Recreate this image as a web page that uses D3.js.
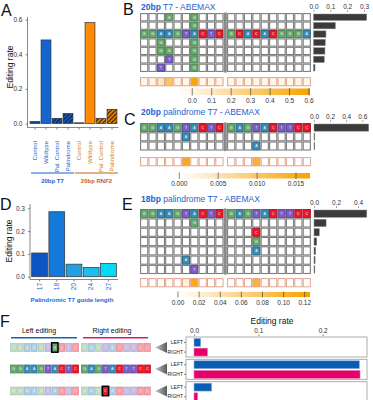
<!DOCTYPE html>
<html>
<head>
<meta charset="utf-8">
<script src="https://cdn.jsdelivr.net/npm/d3@7"></script>
<style>
body { margin: 0; background: #fff; }
text { font-family: "Liberation Sans", Arial, sans-serif; }
</style>
</head>
<body>
<svg id="chart" width="373" height="400"></svg>
<script>
// ---------- data ----------
let aCategories = ['Control', 'Wildtype', 'Pal. Control', 'Palindrome'];
let aGroups = ['20bp T7', '20bp RNF2'];
let aT7 = [0.012, 0.483, 0.03, 0.058];
let aRNF2 = [0.004, 0.583, 0.03, 0.082];
let aTicks = [0, 0.2, 0.4, 0.6];

let dLengths = ['17', '18', '20', '24', '27'];
let dRates = [0.104, 0.285, 0.055, 0.041, 0.058];
let dTicks = [0, 0.1, 0.2, 0.3];

// '.' = unchanged position
let rowsB = [
	'...G..G.............',
	'......G.............',
	'GGAAGTACTCGCACACGGGA',
	'..G...G.............',
	'..GG..G.............',
	'...T..G.............',
	'..T...G.............'
];
let ratesB = [0.316, 0.13, 0.074, 0.07, 0.068, 0.064, 0.009];
let heatB = [0, 0, 0.12, 0.35, 0, 0, 0.58, 0, 0, 0, 0, 0, 0, 0, 0, 0, 0, 0, 0, 0];
let barTicksB = [0, 0.1, 0.2, 0.3];
let legendTicksB = [0, 0.1, 0.2, 0.3, 0.4, 0.5, 0.6];

let rowsC = [
	'GGAAGTACTCGAGTACTTCC',
	'.....A..............',
	'.............A......'
];
let ratesC = [0.68, 0.005, 0.004];
let heatC = [0, 0, 0, 0, 0, 0.0155, 0, 0, 0, 0, 0, 0, 0, 0.0135, 0, 0, 0, 0, 0, 0];
let barTicksC = [0, 0.2, 0.4, 0.6];
let legendTicksC = [0, 0.005, 0.01, 0.015];

let rowsE = [
	'GGAAGTACTCGAGTACTTCC',
	'......G.............',
	'.............C......',
	'.............G......',
	'.............A......',
	'.....A..............',
	'......T.............'
];
let ratesE = [0.48, 0.11, 0.048, 0.025, 0.015, 0.01, 0.008];
let heatE = [0, 0, 0, 0, 0, 0.02, 0.115, 0, 0, 0, 0, 0, 0, 0.1, 0, 0, 0, 0, 0, 0];
let barTicksE = [0, 0.2, 0.4];
let legendTicksE = [0, 0.02, 0.04, 0.06, 0.08, 0.1, 0.12];

let seqF = 'GGAAGTACTCGAGTACTTCC';
let fEditPos = [6, null, 13];
let fEditBase = ['G', null, 'C'];
let fSides = ['LEFT', 'RIGHT'];
let fLeft = [0.0104, 0.257, 0.0275];
let fRight = [0.021, 0.258, 0.0057];
let fTicks = [0, 0.1, 0.2];

// ---------- setup ----------
let svg = d3.select('#chart');
let defs = svg.append('defs');
let baseColor = { G: '#68aa6e', A: '#3a8db6', T: '#7c5ec6', C: '#e8192c' };
let blue = '#1565d0';
let orange = '#ff8c00';

let makeHatch = (id, base, line) => {
	let p = defs.append('pattern')
		.attr('id', id)
		.attr('patternUnits', 'userSpaceOnUse')
		.attr('width', 3)
		.attr('height', 3)
		.attr('patternTransform', 'rotate(45)');
	p.append('rect').attr('width', 3).attr('height', 3).attr('fill', base);
	p.append('line').attr('x1', 0.7).attr('y1', 0).attr('x2', 0.7).attr('y2', 3)
		.attr('stroke', line).attr('stroke-width', 1.4);
};
makeHatch('hatchBlue', blue, '#0b1f4a');
makeHatch('hatchOrange', orange, '#3a2400');

let panelLabel = (txt, x, y) => {
	svg.append('text').attr('x', x).attr('y', y).attr('font-size', 16).attr('fill', '#111').text(txt);
};

let styleAxis = (g) => {
	g.selectAll('text').attr('font-size', 6.5).attr('fill', '#333');
	g.selectAll('line').attr('stroke', '#555').attr('stroke-width', 0.7);
	g.select('.domain').remove();
};

// ---------- panel A ----------
panelLabel('A', 1, 16);
let aData = [];
aGroups.forEach((g, gi) => {
	aCategories.forEach((c, ci) => {
		aData.push({ key: g + c, cat: c, gi: gi, ci: ci, value: gi === 0 ? aT7[ci] : aRNF2[ci] });
	});
});
let aX = d3.scaleBand().domain(aData.map((d) => d.key)).range([29.5, 117.5]).paddingInner(0.1).paddingOuter(0.05);
let aY = d3.scaleLinear().domain([0, 0.6]).range([123.5, 19.7]);

let aFill = (d) => {
	if (d.ci === 0) return d.gi === 0 ? '#1d4690' : '#4a4a4a';
	if (d.ci === 1) return d.gi === 0 ? blue : orange;
	return d.gi === 0 ? 'url(#hatchBlue)' : 'url(#hatchOrange)';
};
svg.append('g').selectAll('rect')
	.data(aData)
	.enter()
	.append('rect')
	.attr('x', (d) => aX(d.key))
	.attr('width', aX.bandwidth())
	.attr('y', (d) => aY(d.value))
	.attr('height', (d) => aY(0) - aY(d.value))
	.attr('fill', aFill)
	.attr('stroke', '#333')
	.attr('stroke-width', 0.7);

svg.append('g').attr('transform', 'translate(27.5,0)')
	.call(d3.axisLeft(aY).tickValues(aTicks).tickFormat(d3.format('.1f')).tickSize(2).tickSizeOuter(0))
	.call(styleAxis);
svg.append('line').attr('x1', 27.5).attr('x2', 27.5).attr('y1', 17).attr('y2', 127.5).attr('stroke', '#555').attr('stroke-width', 0.7);
svg.append('g').attr('transform', 'translate(0,127.5)')
	.call(d3.axisBottom(aX).tickSize(2).tickSizeOuter(0).tickFormat(''))
	.call(styleAxis);
svg.append('line').attr('x1', 27.5).attr('x2', 118.5).attr('y1', 127.5).attr('y2', 127.5).attr('stroke', '#555').attr('stroke-width', 0.7);

svg.append('g').selectAll('text')
	.data(aData)
	.enter()
	.append('text')
	.attr('transform', (d) => 'translate(' + (aX(d.key) + aX.bandwidth() / 2 + 2) + ',141) rotate(-90)')
	.attr('text-anchor', 'end')
	.attr('font-size', 6)
	.attr('fill', (d) => d.gi === 0 ? '#1a5fd0' : '#e07a00')
	.text((d) => d.cat);

aGroups.forEach((g, gi) => {
	let first = aX(g + aCategories[0]);
	let last = aX(g + aCategories[3]) + aX.bandwidth();
	let col = gi === 0 ? '#1a5fd0' : '#c8620a';
	svg.append('line').attr('x1', first + 1).attr('x2', last + 1).attr('y1', 173).attr('y2', 173)
		.attr('stroke', col).attr('stroke-width', 1.1);
	svg.append('text').attr('x', (first + last) / 2 + 1).attr('y', 183).attr('text-anchor', 'middle')
		.attr('font-size', 6).attr('font-weight', 'bold').attr('fill', col).text(g);
});

svg.append('text').attr('transform', 'translate(12.5,67) rotate(-90)').attr('text-anchor', 'middle')
	.attr('font-size', 8.5).attr('fill', '#111').text('Editing rate');

// ---------- panel D ----------
panelLabel('D', 0, 210);
let dColors = ['#0d56c2', '#1479d8', '#22a0e2', '#1ebdf0', '#00dbf8'];
let dX = d3.scaleBand().domain(dLengths).range([31, 117]).paddingInner(0.08).paddingOuter(0.04);
let dY = d3.scaleLinear().domain([0, 0.3]).range([276.7, 208.3]);
svg.append('g').selectAll('rect')
	.data(dLengths)
	.enter()
	.append('rect')
	.attr('x', (d) => dX(d))
	.attr('width', dX.bandwidth())
	.attr('y', (d, i) => dY(dRates[i]))
	.attr('height', (d, i) => dY(0) - dY(dRates[i]))
	.attr('fill', (d, i) => dColors[i])
	.attr('stroke', '#333')
	.attr('stroke-width', 0.7);
svg.append('g').attr('transform', 'translate(30,0)')
	.call(d3.axisLeft(dY).tickValues(dTicks).tickFormat(d3.format('.1f')).tickSize(2))
	.call(styleAxis);
svg.append('line').attr('x1', 30).attr('x2', 30).attr('y1', 204).attr('y2', 279.5).attr('stroke', '#555').attr('stroke-width', 0.7);
svg.append('g').attr('transform', 'translate(0,279.5)')
	.call(d3.axisBottom(dX).tickSize(2).tickSizeOuter(0).tickFormat(''))
	.call(styleAxis);
svg.append('line').attr('x1', 30).attr('x2', 118).attr('y1', 279.5).attr('y2', 279.5).attr('stroke', '#555').attr('stroke-width', 0.7);
svg.append('g').selectAll('text')
	.data(dLengths)
	.enter()
	.append('text')
	.attr('transform', (d) => 'translate(' + (dX(d) + dX.bandwidth() / 2 + 2.2) + ',283) rotate(-90)')
	.attr('text-anchor', 'end')
	.attr('font-size', 6.5)
	.attr('fill', '#1a5fd0')
	.text((d) => d);
svg.append('text').attr('x', 72).attr('y', 302).attr('text-anchor', 'middle').attr('font-size', 6.2)
	.attr('font-weight', 'bold').attr('fill', '#1a6ad8').text('Palindromic T7 guide length');
svg.append('text').attr('transform', 'translate(11.5,241) rotate(-90)').attr('text-anchor', 'middle')
	.attr('font-size', 8.5).attr('fill', '#111').text('Editing rate');

// ---------- grid panels (B, C, E) ----------
let drawGrid = (cfg) => {
	let n = cfg.rows[0].length;
	let half = n / 2;
	let xa = d3.scaleBand().domain(d3.range(half)).range([140, 223.6]);
	let xb = d3.scaleBand().domain(d3.range(half, n)).range([227, 311]);
	let colX = (i) => i < half ? xa(i) : xb(i);
	let cw = xa.bandwidth();
	let y = d3.scaleBand().domain(d3.range(cfg.rows.length)).range([cfg.top, cfg.top + cfg.rowH * cfg.rows.length]);
	let g = svg.append('g');

	let title = g.append('text').attr('x', 141).attr('y', cfg.titleY).attr('font-size', 8.5).attr('fill', '#1c64d0');
	title.append('tspan').attr('font-weight', 'bold').text(cfg.titleBold);
	title.append('tspan').text(cfg.titleRest);

	let cells = [];
	cfg.rows.forEach((r, ri) => {
		r.split('').forEach((b, ci) => cells.push({ ri: ri, ci: ci, b: b }));
	});
	g.selectAll('rect.cell')
		.data(cells)
		.enter()
		.append('rect')
		.attr('class', 'cell')
		.attr('x', (d) => colX(d.ci) + 0.6)
		.attr('y', (d) => y(d.ri) + 0.6)
		.attr('width', cw - 1.2)
		.attr('height', y.bandwidth() - 1.2)
		.attr('fill', (d) => d.b === '.' ? '#fff' : baseColor[d.b])
		.attr('stroke', (d) => d.b === '.' ? '#7d7d7d' : d3.color(baseColor[d.b]).darker(0.7))
		.attr('stroke-width', 1.1);
	g.selectAll('text.base')
		.data(cells.filter((d) => d.b !== '.'))
		.enter()
		.append('text')
		.attr('x', (d) => colX(d.ci) + cw / 2)
		.attr('y', (d) => y(d.ri) + y.bandwidth() / 2 + 1.3)
		.attr('text-anchor', 'middle')
		.attr('font-size', 3.6)
		.attr('fill', '#fff')
		.text((d) => d.b);

	g.append('rect').attr('x', 223.7).attr('width', 3.1)
		.attr('y', cfg.top - 0.5).attr('height', cfg.rowH * cfg.rows.length + 1)
		.attr('fill', '#8a8a8a');

	// frequency bars
	let bx = d3.scaleLinear().domain([0, cfg.barTicks[cfg.barTicks.length - 1]]).range([cfg.barX0, cfg.barX1]);
	g.selectAll('rect.bar')
		.data(cfg.rates)
		.enter()
		.append('rect')
		.attr('class', 'bar')
		.attr('x', bx(0))
		.attr('y', (d, i) => y(i) + 1)
		.attr('width', (d) => Math.max(bx(d) - bx(0), 0.8))
		.attr('height', y.bandwidth() - 2)
		.attr('fill', '#3b3b3b')
		.attr('stroke', '#8c8c8c')
		.attr('stroke-width', 0.5);
	g.append('g').attr('transform', 'translate(0,' + (cfg.top - 1.2) + ')')
		.call(d3.axisTop(bx).tickValues(cfg.barTicks).tickFormat(d3.format('.1f')).tickSize(1.5).tickPadding(1.5))
		.call(styleAxis);

	// per-position heat row
	let lo = cfg.legendDomain[0];
	let hi = cfg.legendDomain[1];
	let heatColor = d3.scaleLinear().domain([lo, hi]).range(['#ffffff', '#f7a200']);
	g.selectAll('rect.heat')
		.data(cfg.heat)
		.enter()
		.append('rect')
		.attr('class', 'heat')
		.attr('x', (d, i) => colX(i) + 0.6)
		.attr('y', cfg.heatY + 0.6)
		.attr('width', cw - 1.2)
		.attr('height', 8.2)
		.attr('fill', (d) => heatColor(Math.max(d, 0)))
		.attr('stroke', '#e2a48e')
		.attr('stroke-width', 1);

	// legend colour bar
	let gradId = 'grad' + cfg.id;
	let grad = defs.append('linearGradient').attr('id', gradId);
	grad.append('stop').attr('offset', '0%').attr('stop-color', heatColor(lo));
	grad.append('stop').attr('offset', '100%').attr('stop-color', heatColor(hi));
	let lx = d3.scaleLinear().domain([lo, hi]).range([cfg.legendX0, 310]);
	g.append('rect').attr('x', lx(lo)).attr('width', lx(hi) - lx(lo))
		.attr('y', cfg.legendY).attr('height', cfg.legendH).attr('fill', 'url(#' + gradId + ')');
	g.selectAll('line.lt')
		.data(cfg.legendTicks)
		.enter()
		.append('line')
		.attr('x1', (d) => lx(d)).attr('x2', (d) => lx(d))
		.attr('y1', cfg.legendY - 0.5).attr('y2', cfg.legendY + cfg.legendH + 0.5)
		.attr('stroke', '#333').attr('stroke-width', 0.6);
	g.selectAll('text.lt')
		.data(cfg.legendTicks)
		.enter()
		.append('text')
		.attr('x', (d) => lx(d))
		.attr('y', cfg.legendY + cfg.legendH + 7.5)
		.attr('text-anchor', 'middle')
		.attr('font-size', 6.5)
		.attr('fill', '#333')
		.text((d) => d3.format(cfg.legendFormat)(d));
};

panelLabel('B', 123, 15);
drawGrid({
	id: 'B', rows: rowsB, rates: ratesB, heat: heatB, top: 13, rowH: 8.43,
	titleBold: '20bp', titleRest: ' T7 - ABEMAX', titleY: 9.5,
	barTicks: barTicksB, barX0: 313.5, barX1: 364,
	heatY: 77, legendDomain: [-0.063, 0.605], legendX0: 180, legendY: 88.5, legendH: 6.5,
	legendTicks: legendTicksB, legendFormat: '.1f'
});

panelLabel('C', 124, 124.5);
drawGrid({
	id: 'C', rows: rowsC, rates: ratesC, heat: heatC, top: 123, rowH: 9.2,
	titleBold: '20bp', titleRest: ' palindrome T7 - ABEMAX', titleY: 114.5,
	barTicks: barTicksC, barX0: 314, barX1: 362.3,
	heatY: 157, legendDomain: [0, 0.0168], legendX0: 179.3, legendY: 173, legendH: 5.5,
	legendTicks: legendTicksC, legendFormat: '.3f'
});

panelLabel('E', 122, 210);
drawGrid({
	id: 'E', rows: rowsE, rates: ratesE, heat: heatE, top: 209, rowH: 9.3,
	titleBold: '18bp', titleRest: ' palindrome T7 - ABEMAX', titleY: 201.5,
	barTicks: barTicksE, barX0: 314, barX1: 358,
	heatY: 278, legendDomain: [0, 0.125], legendX0: 178, legendY: 292, legendH: 5,
	legendTicks: legendTicksE, legendFormat: '.2f'
});

// ---------- panel F ----------
panelLabel('F', 0, 327);
svg.append('text').attr('x', 39).attr('y', 333).attr('text-anchor', 'middle').attr('font-size', 7).attr('fill', '#111').text('Left editing');
svg.append('text').attr('x', 112).attr('y', 333).attr('text-anchor', 'middle').attr('font-size', 7).attr('fill', '#111').text('Right editing');
svg.append('line').attr('x1', 11).attr('x2', 77).attr('y1', 337.8).attr('y2', 337.8).attr('stroke', '#1560c0').attr('stroke-width', 1.5);
svg.append('line').attr('x1', 83).attr('x2', 148).attr('y1', 337.8).attr('y2', 337.8).attr('stroke', '#e8106e').attr('stroke-width', 1.5);

let fRowTop = [343, 364.5, 386.5];
let fBoxTop = [337, 359.3, 381.7];
let fxa = d3.scaleBand().domain(d3.range(10)).range([10, 79]);
let fxb = d3.scaleBand().domain(d3.range(10, 20)).range([81, 151]);
let fColX = (i) => i < 10 ? fxa(i) : fxb(i);
let fcw = fxa.bandwidth();

let triGrad = defs.append('linearGradient').attr('id', 'triGrad');
triGrad.append('stop').attr('offset', '0%').attr('stop-color', '#c8c8c8');
triGrad.append('stop').attr('offset', '100%').attr('stop-color', '#5a5a5a');

let fx = d3.scaleLinear().domain([0, 0.2]).range([194, 322.7]);

fRowTop.forEach((top, ri) => {
	let cells = seqF.split('').map((b, ci) => ({ b: b, ci: ci }));
	let faded = fEditPos[ri] !== null;
	let g = svg.append('g');
	g.selectAll('rect')
		.data(cells)
		.enter()
		.append('rect')
		.attr('x', (d) => fColX(d.ci) + 0.5)
		.attr('y', top + 0.5)
		.attr('width', fcw - 1)
		.attr('height', 8)
		.attr('fill', (d) => baseColor[d.b])
		.attr('fill-opacity', faded ? 0.4 : 1)
		.attr('stroke', (d) => d3.color(baseColor[d.b]).darker(0.5))
		.attr('stroke-opacity', faded ? 0.35 : 1)
		.attr('stroke-width', 0.8);
	g.selectAll('text')
		.data(cells)
		.enter()
		.append('text')
		.attr('x', (d) => fColX(d.ci) + fcw / 2)
		.attr('y', top + 5.8)
		.attr('text-anchor', 'middle')
		.attr('font-size', 3.4)
		.attr('fill', '#fff')
		.attr('fill-opacity', faded ? 0.6 : 1)
		.text((d) => d.b);
	if (faded) {
		let p = fEditPos[ri];
		g.append('rect').attr('x', fColX(p) + 0.3).attr('y', top - 0.2).attr('width', fcw - 0.6).attr('height', 9.4)
			.attr('fill', baseColor[fEditBase[ri]]).attr('stroke', '#000').attr('stroke-width', 1.5);
		g.append('text').attr('x', fColX(p) + fcw / 2).attr('y', top + 5.8).attr('text-anchor', 'middle')
			.attr('font-size', 3.4).attr('fill', '#fff').text(fEditBase[ri]);
	}

	// pointer triangle
	let cy = top + 4.5;
	svg.append('path')
		.attr('d', 'M155,' + cy + 'L167,' + (cy - 5.5) + 'L167,' + (cy + 5.5) + 'Z')
		.attr('fill', 'url(#triGrad)');

	// bar facet
	let bt = fBoxTop[ri];
	let by = d3.scaleBand().domain(fSides).range([bt + 0.5, bt + 20]).paddingInner(0.18).paddingOuter(0.1);
	svg.append('rect').attr('x', 186).attr('y', bt).attr('width', 181).attr('height', 20)
		.attr('fill', 'none').attr('stroke', '#9a9a9a').attr('stroke-width', 0.8);
	let vals = [fLeft[ri], fRight[ri]];
	svg.append('g').selectAll('rect')
		.data(fSides)
		.enter()
		.append('rect')
		.attr('x', fx(0))
		.attr('y', (d) => by(d))
		.attr('width', (d, i) => fx(vals[i]) - fx(0))
		.attr('height', by.bandwidth())
		.attr('fill', (d) => d === 'LEFT' ? '#0b5cb5' : '#e6006c')
		.attr('stroke', (d) => d === 'LEFT' ? '#8bb4e0' : '#f07aa8')
		.attr('stroke-width', 0.6);
	svg.append('g').attr('transform', 'translate(186,0)')
		.call(d3.axisLeft(by).tickSize(2).tickPadding(1))
		.call(styleAxis)
		.selectAll('text').attr('font-size', 5).attr('fill', '#222');
});

svg.append('g').attr('transform', 'translate(0,336)')
	.call(d3.axisTop(fx).tickValues(fTicks).tickFormat(d3.format('.1f')).tickSize(1.5).tickPadding(1.5))
	.call(styleAxis);
svg.append('text').attr('x', 272).attr('y', 324).attr('text-anchor', 'middle').attr('font-size', 8.5).attr('fill', '#111').text('Editing rate');
</script>
</body>
</html>
